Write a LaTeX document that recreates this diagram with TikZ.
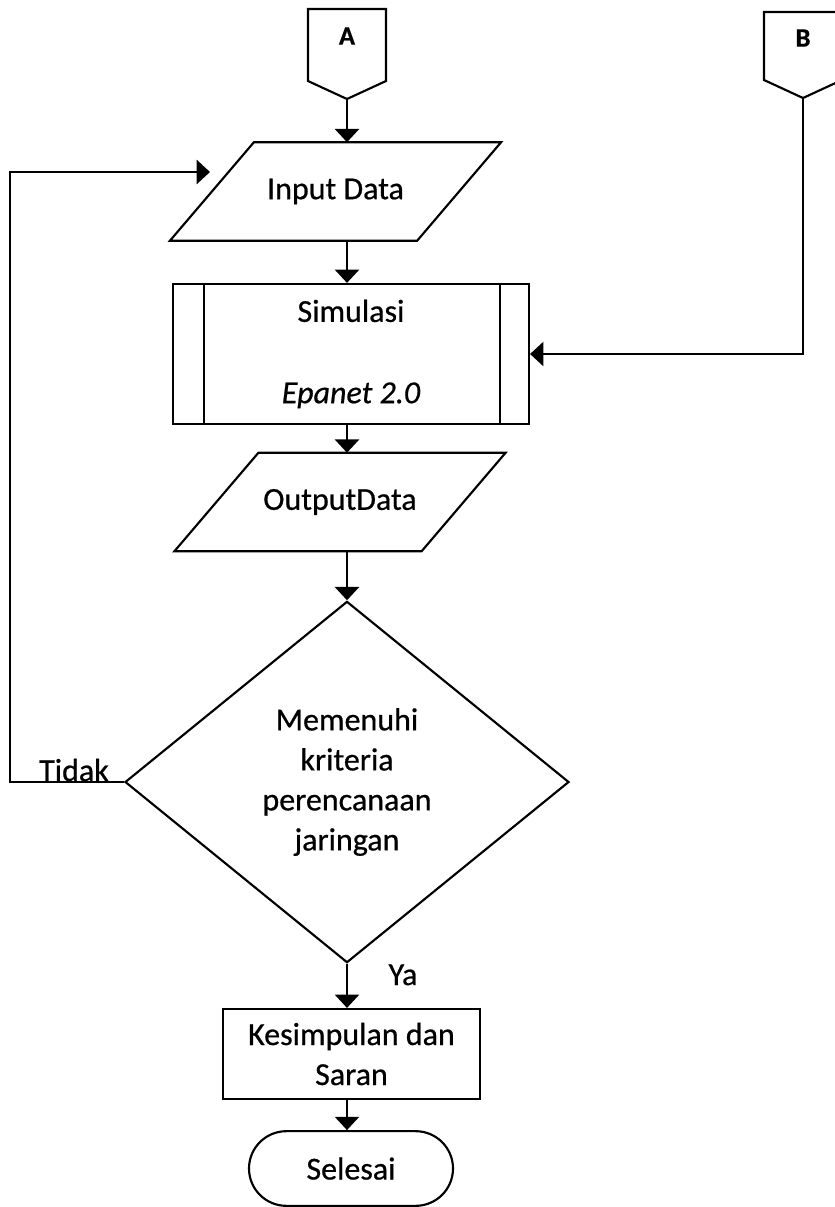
\documentclass[tikz,border=0pt]{standalone}
\usepackage{fontspec}
\setmainfont{Carlito}[FakeBold=0.6]
\usetikzlibrary{calc}
\usetikzlibrary{arrows.meta}
\usetikzlibrary{shapes.geometric}
\usetikzlibrary{shapes.misc}
\tikzset{
	flowline/.style={line width=1.6pt},
	arrowline/.style={line width=2pt, -{Triangle[length=10pt,width=18pt]}},
	iobox/.style={rectangle, minimum width=185pt, minimum height=73.5pt, inner sep=0pt},
	procbox/.style={draw, flowline, rectangle, align=center, inner sep=0pt},
	decision/.style={draw, flowline, diamond, aspect=1.23, align=center, inner sep=0pt,
		minimum width=333pt, minimum height=271pt},
	endbox/.style={draw, flowline, rounded rectangle, minimum width=153pt, minimum height=56pt, inner sep=0pt},
	offpage/.style={font=\fontsize{20}{24}\selectfont\bfseries}
}

\begin{document}
\begin{tikzpicture}[x=0.75pt, y=-0.75pt, font=\fontsize{24}{30}\selectfont]
	\useasboundingbox (0,0) rectangle (835,1207);

	% off-page connectors
	\draw [flowline] (308,9)--(386,9)--(386,81)--(347,99)--(308,81)--cycle;
	\node [offpage] (A) at (347,36) {A};
	\coordinate (Atip) at (347,99);
	\draw [flowline] (764,12)--(842,12)--(842,80)--(803,98)--(764,80)--cycle;
	\node [offpage] (B) at (803,38) {B};
	\coordinate (Btip) at (803,98);

	% input / output
	\node [iobox] (input) at (335.5,191.5) {Input Data};
	\draw [flowline] ([xshift=31.5pt]input.north west)--([xshift=31.5pt]input.north east)
		--([xshift=-31.5pt]input.south east)--([xshift=-31.5pt]input.south west)--cycle;
	\node [iobox] (output) at (340,502) {OutputData};
	\draw [flowline] ([xshift=31.5pt]output.north west)--([xshift=31.5pt]output.north east)
		--([xshift=-31.5pt]output.south east)--([xshift=-31.5pt]output.south west)--cycle;

	% process, decision, end
	\node [procbox, minimum width=267pt, minimum height=105pt] (sim) at (351,354) {Simulasi\\[31pt]\textit{Epanet 2.0}};
	\draw [flowline] ([xshift=24pt]sim.north west)--([xshift=24pt]sim.south west);
	\draw [flowline] ([xshift=-22.5pt]sim.north east)--([xshift=-22.5pt]sim.south east);
	\node [decision] (dec) at (347,782) {Memenuhi\\kriteria\\perencanaan\\jaringan};
	\node [procbox, minimum width=193pt, minimum height=67.5pt] (concl) at (351.5,1054) {Kesimpulan dan\\Saran};
	\node [endbox] (finish) at (351,1168.5) {Selesai};

	% connectors
	\draw [arrowline] (Atip)--(Atip |- input.north);
	\draw [arrowline] (input.south -| Atip)--(Atip |- sim.north);
	\draw [arrowline] (Btip)--(Btip |- sim.east)--(sim.east);
	\draw [arrowline] (sim.south -| Atip)--(Atip |- output.north);
	\draw [arrowline] (output.south -| dec.north)--(dec.north);
	\draw [arrowline] (dec.south)--(dec.south |- concl.north);
	\draw [arrowline] (concl.south -| dec.south)--(dec.south |- finish.north);

	\coordinate (loopcorner) at (10,782);
	\coordinate (loopend) at (210,172);
	\draw [arrowline] (dec.west)--(loopcorner) |- (loopend);
	\node [anchor=base] (no) at (74,781) {Tidak};
	\node [anchor=base] (yes) at (403,985) {Ya};
\end{tikzpicture}
\end{document}
